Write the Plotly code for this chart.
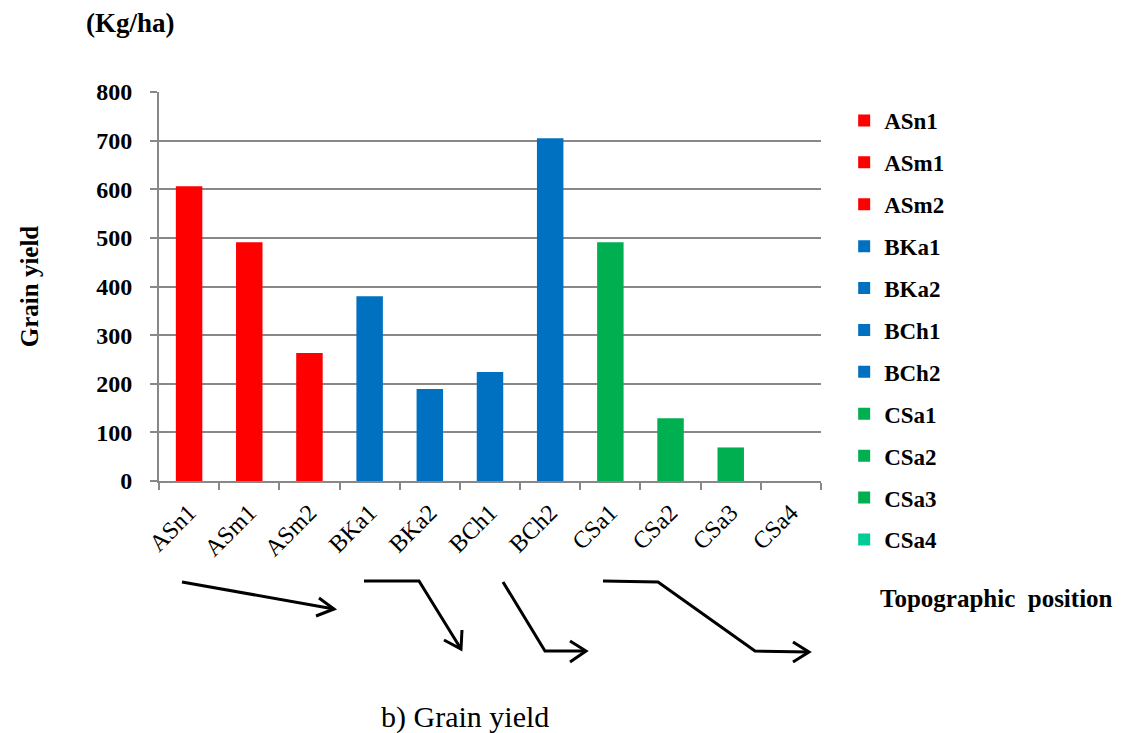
import plotly.graph_objects as go

# Grain yield (kg/ha) by topographic position
positions = ["ASn1", "ASm1", "ASm2", "BKa1", "BKa2", "BCh1", "BCh2",
             "CSa1", "CSa2", "CSa3", "CSa4"]
grain_yield = [606, 491, 263, 380, 189, 224, 705, 491, 129, 69, 0]
bar_colors = ["#FF0000", "#FF0000", "#FF0000",
              "#0070C0", "#0070C0", "#0070C0", "#0070C0",
              "#00B050", "#00B050", "#00B050", "#00CC99"]
y_ticks = [0, 100, 200, 300, 400, 500, 600, 700, 800]

SERIF = "Liberation Serif, Times New Roman, serif"
GRID = "#888888"

W, H = 1125, 733
L, R, T, B = 159, 821, 92, 481   # plot area in pixels


def px(x, y):
    """Pixel position on the page -> paper coordinates."""
    return (x - L) / (R - L), (B - y) / (B - T)


def path(points):
    pts = [px(x, y) for x, y in points]
    return "M" + " L".join(f"{a:.5f},{b:.5f}" for a, b in pts)


fig = go.Figure()
for name, val, col in zip(positions, grain_yield, bar_colors):
    fig.add_trace(go.Bar(
        x=[name], y=[val], name=name, marker_color=col,
        marker_line_width=0, width=0.44, legendgroup=name,
    ))

# trend arrows under the category axis
arrow_lines = [
    [(182, 582), (334, 609)],
    [(364, 581), (419, 581), (461, 649)],
    [(503, 582), (545, 651), (586, 651)],
    [(603, 581), (658, 582), (755, 651), (809, 652)],
]
arrow_heads = [
    [(319, 598), (334, 609), (316, 616)],
    [(444, 640), (461, 649), (462, 630)],
    [(570, 641), (586, 651), (570, 662)],
    [(793, 642), (809, 652), (793, 662)],
]
shapes = []
for pts in arrow_lines + arrow_heads:
    shapes.append(dict(type="path", path=path(pts), xref="paper", yref="paper",
                       line=dict(color="black", width=3)))


def label(text, x, y, size, bold=False):
    ax, ay = px(x, y)
    return dict(text=text, x=ax, y=ay, xref="paper", yref="paper",
                xanchor="center", yanchor="middle", showarrow=False,
                font=dict(family=SERIF, size=size, color="black",
                          weight="bold" if bold else "normal"))


ann = [
    label("(Kg/ha)", 130, 23, 27, bold=True),
    label("Topographic  position", 996, 598, 25, bold=True),
    label("b) Grain yield", 465, 717, 30),
]

fig.update_layout(
    width=W, height=H,
    margin=dict(l=L, r=W - R, t=T, b=H - B, autoexpand=False),
    paper_bgcolor="white", plot_bgcolor="white",
    barmode="overlay",
    shapes=shapes, annotations=ann,
    showlegend=True,
    legend=dict(x=1.035, y=0.982, xanchor="left", yanchor="top",
                traceorder="grouped", tracegroupgap=9, maxheight=650,
                font=dict(family=SERIF, size=23, color="black", weight="bold"),
                itemclick=False),
    font=dict(family=SERIF, color="black"),
)

fig.update_xaxes(
    type="category", categoryorder="array", categoryarray=positions,
    range=[-0.5, len(positions) - 0.5],
    showline=True, linecolor=GRID, linewidth=2,
    showgrid=False, tickson="boundaries", ticks="outside", ticklen=7,
    tickcolor=GRID, tickwidth=2,
    tickangle=-45, ticklabelstandoff=6,
    tickfont=dict(family=SERIF, size=24, color="black"),
)
fig.update_yaxes(
    range=[0, 800], tickvals=y_ticks,
    showline=True, linecolor=GRID, linewidth=2,
    showgrid=True, gridcolor=GRID, gridwidth=1.5,
    ticks="outside", ticklen=7, tickcolor=GRID, tickwidth=2,
    ticklabelstandoff=13, zeroline=False,
    tickfont=dict(family=SERIF, size=24, color="black", weight="bold"),
    title=dict(text="Grain yield", standoff=50,
               font=dict(family=SERIF, size=25, color="black", weight="bold")),
)

fig.write_html("out.html")
